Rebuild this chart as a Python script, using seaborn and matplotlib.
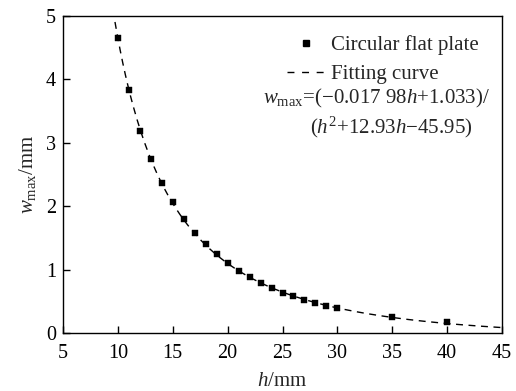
import numpy as np
import pandas as pd
import matplotlib
matplotlib.use("Agg")
import matplotlib.pyplot as plt
import seaborn as sns
from matplotlib.lines import Line2D

# Data
h_vals = [10, 11, 12, 13, 14, 15, 16, 17, 18, 19, 20, 21, 22, 23, 24, 25, 26, 27, 28, 29, 30, 35, 40]
w_vals = [4.66, 3.84, 3.19, 2.74, 2.37, 2.06, 1.80, 1.58, 1.40, 1.24, 1.10, 0.98, 0.88, 0.79, 0.71,
          0.64, 0.58, 0.52, 0.47, 0.43, 0.39, 0.26, 0.18]

# Fitting curve coefficients as stated in the chart (result scaled to mm)
fit_num = [-0.01798, 1.033]
fit_den = [1.0, 12.93, -45.95]
fit_h_range = [9.74, 45.0]

x_ticks = [5, 10, 15, 20, 25, 30, 35, 40, 45]
y_ticks = [0, 1, 2, 3, 4, 5]

sns.set_theme(style="white")
plt.rcParams['font.family'] = ['Liberation Serif', 'DejaVu Serif']
plt.rcParams['mathtext.fontset'] = 'custom'
plt.rcParams['mathtext.rm'] = 'Liberation Serif'
plt.rcParams['mathtext.it'] = 'Liberation Serif:italic'

fig = plt.figure(figsize=(5.16, 3.91), dpi=100)
ax = fig.add_axes([0.122, 0.148, 0.851, 0.811])

hc = np.linspace(fit_h_range[0], fit_h_range[1], 300)
wc = 1000 * (fit_num[0] * hc + fit_num[1]) / (fit_den[0] * hc**2 + fit_den[1] * hc + fit_den[2])
curve = pd.DataFrame({"h": hc, "w": wc})
pts = pd.DataFrame({"h": h_vals, "w": w_vals})

sns.lineplot(data=curve, x="h", y="w", ax=ax, color="black", lw=1.0,
             linestyle=(0, (5, 4)), sort=False)
sns.scatterplot(data=pts, x="h", y="w", ax=ax, color="black", marker="s", s=22,
                edgecolor="black", linewidth=0.3, zorder=3)

ax.set_xlim(5, 45)
ax.set_ylim(0, 5)
ax.set_xticks(x_ticks)
ax.set_yticks(y_ticks)
ax.tick_params(direction="in", length=5, width=1, labelsize=14.5, colors="black",
               bottom=True, left=True, top=False, right=False)
ax.tick_params(axis="x", pad=7.5)
ax.tick_params(axis="y", pad=5)
for s in ax.spines.values():
    s.set_color("black")
    s.set_linewidth(1.0)

ax.set_xlabel("$h$/mm", fontsize=15, labelpad=7)
ax.set_ylabel(r"$w_{\mathrm{max}}$/mm", fontsize=15, labelpad=6)

handles = [
    Line2D([], [], color="black", marker="s", linestyle="none", markersize=5),
    Line2D([], [], color="black", linestyle=(0, (5, 5.5)), lw=1.0),
]
ax.legend(handles, ["Circular flat plate", "Fitting curve"], loc="upper left",
          bbox_to_anchor=(0.510, 0.939), frameon=False, fontsize=15, handlelength=1.8,
          handletextpad=0.3, labelspacing=0.45, borderaxespad=0, borderpad=0)

ax.text(0.456, 0.739, r"$w_{\mathrm{max}}$=(−0.017 98$h$+1.033)/", transform=ax.transAxes,
        fontsize=15, ha="left", va="center")
ax.text(0.563, 0.650, r"($h^2$+12.93$h$−45.95)", transform=ax.transAxes,
        fontsize=15, ha="left", va="center")

fig.savefig("out.png", dpi=100)
